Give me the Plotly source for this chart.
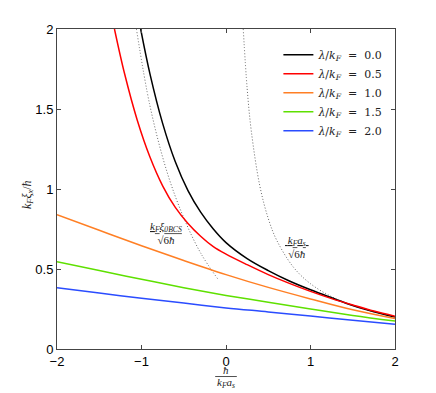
import plotly.graph_objects as go

# values
x_l00 = [-1.01, -0.9, -0.75, -0.6, -0.45, -0.3, -0.15, 0.0, 0.25, 0.5, 0.75, 1.0, 1.25, 1.5, 1.75, 2.0]
y_l00 = [2.0, 1.72, 1.41, 1.17, 0.99, 0.855, 0.75, 0.665, 0.565, 0.49, 0.425, 0.37, 0.32, 0.272, 0.233, 0.20]

x_l05 = [-1.32, -1.2, -1.05, -0.9, -0.75, -0.6, -0.45, -0.3, -0.15, 0.0, 0.25, 0.5, 0.75, 1.0, 1.25, 1.5, 1.75, 2.0]
y_l05 = [2.0, 1.72, 1.43, 1.20, 1.02, 0.885, 0.785, 0.705, 0.64, 0.593, 0.527, 0.465, 0.41, 0.36, 0.315, 0.275, 0.237, 0.205]

x_l10 = [-2.0, -1.5, -1.0, -0.5, 0.0, 0.5, 1.0, 1.5, 2.0]
y_l10 = [0.84, 0.742, 0.645, 0.553, 0.465, 0.385, 0.313, 0.245, 0.19]

x_l15 = [-2.0, -1.5, -1.0, -0.5, 0.0, 0.5, 1.0, 1.5, 2.0]
y_l15 = [0.546, 0.49, 0.436, 0.383, 0.335, 0.292, 0.25, 0.21, 0.175]

x_l20 = [-2.0, -1.5, -1.0, -0.5, 0.0, 0.5, 1.0, 1.5, 2.0]
y_l20 = [0.383, 0.35, 0.317, 0.287, 0.257, 0.232, 0.206, 0.18, 0.155]

# asymptotic limits (dotted)
x_bcs = [-1.06, -0.9, -0.7, -0.5, -0.3, -0.1]
y_bcs = [2.0, 1.52, 1.11, 0.82, 0.60, 0.44]

x_bec = [0.204, 0.25, 0.3, 0.4, 0.5, 0.6, 0.8, 1.0, 1.25, 1.5, 1.75, 2.0]
y_bec = [2.0, 1.63, 1.36, 1.02, 0.816, 0.68, 0.51, 0.408, 0.327, 0.272, 0.233, 0.204]

names = ["0.0", "0.5", "1.0", "1.5", "2.0"]
colors = ["#000000", "#ff0000", "#ff7f24", "#5ee000", "#2a4cff"]
xs = [x_l00, x_l05, x_l10, x_l15, x_l20]
ys = [y_l00, y_l05, y_l10, y_l15, y_l20]

fig = go.Figure()

dotted = dict(color="#666666", width=1, dash="1px,2px", shape="spline")
fig.add_trace(go.Scatter(x=x_bcs, y=y_bcs, mode="lines", line=dotted, showlegend=False))
fig.add_trace(go.Scatter(x=x_bec, y=y_bec, mode="lines", line=dotted, showlegend=False))

for i in range(5):
    fig.add_trace(go.Scatter(x=xs[i], y=ys[i], mode="lines",
                             line=dict(color=colors[i], width=1.5, shape="spline"),
                             name=f"<i>λ</i>/<i>k<sub>F</sub></i>&nbsp;&nbsp;=&nbsp;&nbsp;{names[i]}"))

lbl_font = dict(family="Liberation Serif", size=11, color="#222")
fig.add_annotation(x=-0.71, y=0.725, text="<u><i>k<sub>F</sub>ξ<sub>0BCS</sub></i></u><br>√6<i>ħ</i>",
                   showarrow=False, xanchor="center", yanchor="middle", font=lbl_font)
fig.add_annotation(x=0.84, y=0.64, text="<u>&nbsp;<i>k<sub>F</sub>a<sub>s</sub></i>&nbsp;</u><br>√6<i>ħ</i>",
                   showarrow=False, xanchor="center", yanchor="middle", font=lbl_font)

# x axis title as a fraction
fig.add_annotation(xref="paper", yref="paper", x=0.5, y=-0.066, text="<i>ħ</i>",
                   showarrow=False, xanchor="center", yanchor="middle", font=lbl_font)
fig.add_annotation(xref="paper", yref="paper", x=0.5, y=-0.105, text="<i>k<sub>F</sub>a<sub>s</sub></i>",
                   showarrow=False, xanchor="center", yanchor="middle", font=lbl_font)
fig.add_shape(type="line", xref="paper", yref="paper", x0=0.468, x1=0.532, y0=-0.086, y1=-0.086,
              line=dict(color="#222", width=0.8))

fig.add_annotation(xref="paper", yref="paper", x=-0.086, y=0.484, textangle=-90,
                   text="<i>k<sub>F</sub>ξ<sub>x</sub></i>/<i>ħ</i>",
                   showarrow=False, xanchor="center", yanchor="middle",
                   font=dict(family="Liberation Serif", size=12, color="#222"))

axis_style = dict(showgrid=False, zeroline=False, showline=True, linecolor="#444", linewidth=1,
                  mirror="ticks", ticks="inside", ticklen=4, tickcolor="#444",
                  tickfont=dict(family="Liberation Sans", size=13, color="#000"))
fig.update_xaxes(range=[-2, 2], tickvals=[-2, -1, 0, 1, 2], **axis_style)
fig.update_yaxes(range=[0, 2], tickvals=[0, 0.5, 1, 1.5, 2], **axis_style)

# page body has an 8px margin, so the figure is shrunk by that much
fig.update_layout(width=428, height=385, margin=dict(l=49, r=41, t=21, b=44),
                  plot_bgcolor="white", paper_bgcolor="white",
                  legend=dict(x=0.655, y=0.965, xanchor="left", yanchor="top",
                              bgcolor="rgba(0,0,0,0)", tracegroupgap=0,
                              font=dict(family="DejaVu Serif", size=11, color="#222")))

fig.write_html("out.html")
